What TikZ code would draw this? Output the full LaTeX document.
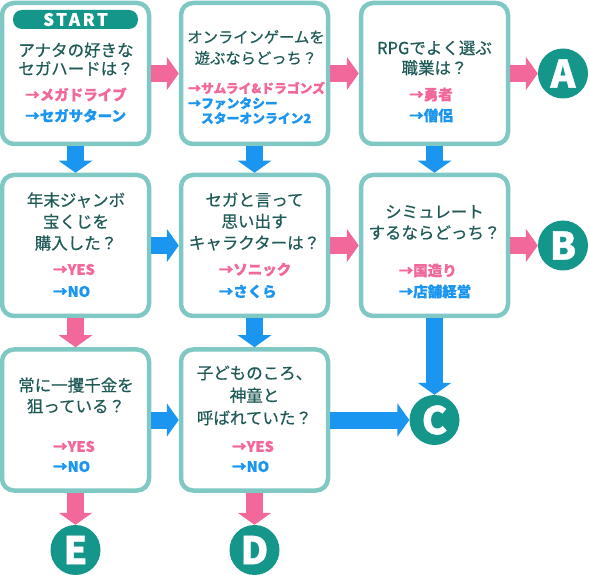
\documentclass[tikz,border=0pt]{standalone}
\usepackage{fontspec}
\setmainfont{Noto Sans CJK JP}
\usetikzlibrary{arrows.meta}
\definecolor{pk}{HTML}{F2689A}
\definecolor{bl}{HTML}{1A96F0}
\definecolor{tl}{HTML}{15968B}
\definecolor{bd}{HTML}{80C8C4}
\definecolor{qt}{HTML}{1F5A57}
\newcommand{\qfont}[2]{\fontsize{#1}{#2}\selectfont\addfontfeature{FakeBold=0.5}}
\newcommand{\afont}[2]{\fontsize{#1}{#2}\selectfont\bfseries\addfontfeature{FakeBold=0.8}}
\tikzset{
 qbox/.style={draw=bd, line width=4.5pt, rounded corners=12pt, fill=white, minimum width=147pt, minimum height=141pt, inner sep=0pt},
 goal/.style={circle, fill=tl, minimum size=50pt, inner sep=0pt, text=white, font=\fontsize{38}{38}\selectfont\bfseries\addfontfeature{FakeBold=1}},
 startpill/.style={fill=tl, rounded corners=9pt, minimum width=125pt, minimum height=19pt, inner sep=0pt, text=white, font=\fontsize{17}{17}\selectfont\bfseries\addfontfeature{LetterSpace=15,FakeBold=0.6}},
 qtxt/.style={text=qt, align=center, inner sep=0pt, font=\qfont{16.5}{21}},
 ans/.style={align=left, inner sep=0pt, font=\afont{14.5}{21}},
 parrow/.style={draw=pk, line width=17pt, -{Triangle[width=33pt,length=12pt]}},
 barrow/.style={draw=bl, line width=17pt, -{Triangle[width=33pt,length=12pt]}},
}
\begin{document}
\begin{tikzpicture}[x=1pt,y=-1pt]
\useasboundingbox (0,0) rectangle (590,575);
% boxes
\node[qbox] (q1) at (75.5,73.5) {};
\node[qbox] (q2) at (254.5,73.5) {};
\node[qbox] (q3) at (434.5,73.5) {};
\node[qbox] (q4) at (75.5,245.5) {};
\node[qbox] (q5) at (254.5,245.5) {};
\node[qbox] (q6) at (434.5,245.5) {};
\node[qbox] (q7) at (75.5,420) {};
\node[qbox] (q8) at (254.5,420) {};
% goals
\node[goal] (A) at (563,73.5) {A};
\node[goal] (B) at (563,245.5) {B};
\node[goal] (C) at (434.5,420) {C};
\node[goal] (D) at (254.5,550) {D};
\node[goal] (E) at (75.5,550) {E};
% box 1
\node[startpill] (st) at (75.5,19.5) {START};
\node[qtxt, font=\qfont{16.5}{18.5}] (t1) at (76,59) {アナタの好きな\\セガハードは？};
\node[ans] (a1) at (76,105) {{\color{pk}→メガドライブ}\\{\color{bl}→セガサターン}};
% box 2
\node[qtxt, font=\qfont{15.3}{21}] (t2) at (256,47.5) {オンラインゲームを\\遊ぶならどっち？};
\node[ans, anchor=west, font=\afont{12.8}{15}] (a2) at (188,103) {{\color{pk}→サムライ\&ドラゴンズ}\\{\color{bl}→ファンタシー}\\{\color{bl}\phantom{→}スターオンライン2}};
% box 3
\node[qtxt, font=\qfont{16.5}{20}] (t3) at (434.5,58) {RPGでよく選ぶ\\職業は？};
\node[ans] (a3) at (431,105) {{\color{pk}→勇者}\\{\color{bl}→僧侶}};
% box 4
\node[qtxt, font=\qfont{16.5}{21.5}] (t4) at (76,221.5) {年末ジャンボ\\宝くじを\\購入した？};
\node[ans, font=\afont{14.5}{22}] (a4) at (74,280.5) {{\color{pk}→YES}\\{\color{bl}→NO}};
% box 5
\node[qtxt, font=\qfont{16.5}{21.5}] (t5) at (254.5,221.5) {セガと言って\\思い出す\\キャラクターは？};
\node[ans, font=\afont{14.5}{22}] (a5) at (255,280.5) {{\color{pk}→ソニック}\\{\color{bl}→さくら}};
% box 6
\node[qtxt, font=\qfont{16.5}{21}] (t6) at (434.5,222.5) {シミュレート\\するならどっち？};
\node[ans] (a6) at (435,281) {{\color{pk}→国造り}\\{\color{bl}→店舗経営}};
% box 7
\node[qtxt, font=\qfont{16.5}{21}] (t7) at (76,395.5) {常に一攫千金を\\狙っている？};
\node[ans, font=\afont{14.5}{20}] (a7) at (74,456.5) {{\color{pk}→YES}\\{\color{bl}→NO}};
% box 8
\node[qtxt, font=\qfont{16.5}{22.5}] (t8) at (254.5,395.5) {子どものころ、\\神童と\\呼ばれていた？};
\node[ans, font=\afont{14.5}{20}] (a8) at (253,456.5) {{\color{pk}→YES}\\{\color{bl}→NO}};
% arrows
\draw[parrow] (q1.east) -- (q2.west);
\draw[parrow] (q2.east) -- (q3.west);
\draw[parrow] (q3.east) -- (A.west);
\draw[barrow] (q1.south) -- (q4.north);
\draw[barrow] (q2.south) -- (q5.north);
\draw[barrow] (q3.south) -- (q6.north);
\draw[barrow] (q4.east) -- (q5.west);
\draw[parrow] (q5.east) -- (q6.west);
\draw[parrow] (q6.east) -- (B.west);
\draw[parrow] (q4.south) -- (q7.north);
\draw[barrow] (q5.south) -- (q8.north);
\draw[barrow] (q6.south) -- (C.north);
\draw[barrow] (q7.east) -- (q8.west);
\draw[barrow] (q8.east) -- (C.west);
\draw[parrow] (q7.south) -- (E.north);
\draw[parrow] (q8.south) -- (D.north);
\end{tikzpicture}
\end{document}
